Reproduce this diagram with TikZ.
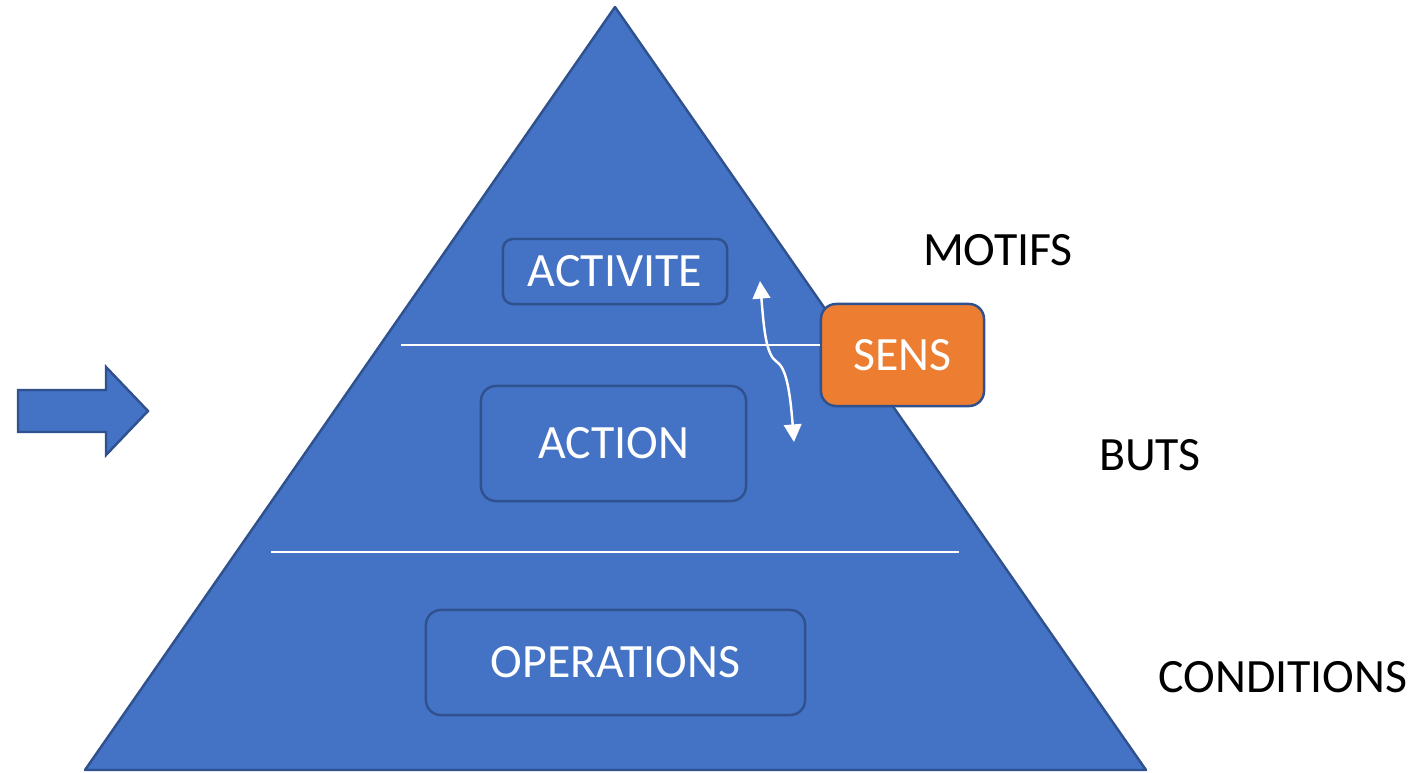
\documentclass[tikz,border=0pt]{standalone}
\usepackage{fontspec}
\setmainfont{Carlito}
\usepackage{tikz}
\definecolor{PyramidBlue}{HTML}{4472C4}
\definecolor{EdgeBlue}{HTML}{2F528F}
\definecolor{SensOrange}{HTML}{ED7D31}
\usetikzlibrary{
	positioning,
	calc,
	arrows.meta
}

\begin{document}
\begin{tikzpicture}[
	x=0.01cm, y=-0.01cm,
	txt/.style={font=\fontsize{13.6}{16}\selectfont, inner sep=0pt},
	level/.style={txt, draw=EdgeBlue, line width=0.7pt, text=white, rounded corners=0.15cm},
	levelsmall/.style={level, minimum width=2.24cm, minimum height=0.65cm, rounded corners=0.1cm},
	sense/.style={level, fill=SensOrange, minimum width=1.63cm, minimum height=1.02cm},
	side/.style={txt, text=black},
	divider/.style={draw=white, line width=0.4pt},
	flow/.style={draw=white, line width=0.7pt, {Triangle[width=5pt,length=5pt]}-{Triangle[width=5pt,length=5pt]}}
]

	\useasboundingbox (0,0) rectangle (1426,772);

	% pyramid
	\coordinate (apex) at (615,7);
	\coordinate (baseL) at (85,770);
	\coordinate (baseR) at (1146,770);
	\fill[PyramidBlue, draw=EdgeBlue, line width=0.7pt, line join=round] (apex) -- (baseR) -- (baseL) -- cycle;

	% input arrow
	\fill[PyramidBlue, draw=EdgeBlue, line width=0.7pt] (18,390) -- (106,390) -- (106,367) -- (148,411)
		-- (106,455) -- (106,432) -- (18,432) -- cycle;

	% dividers
	\coordinate (d1a) at (401,345);
	\coordinate (d2a) at (271,552);
	\coordinate (d2b) at (959,552);

	% levels
	\node[levelsmall] (activite) at (615,271.5) {ACTIVITE};
	\node[level, minimum width=2.65cm, minimum height=1.15cm] (action) at (613.5,443.5) {ACTION};
	\node[level, minimum width=3.79cm, minimum height=1.05cm] (operations) at (615.5,662.5) {OPERATIONS};
	\node[sense] (sens) at (902.5,355) {SENS};

	\draw[divider] (d1a) -- (d1a -| sens.west);
	\draw[divider] (d2a) -- (d2b);

	% link between levels
	\coordinate (up) at (760,281);
	\coordinate (down) at (794,442);
	\draw[flow] (up) .. controls (764,330) and (766,355) .. (777,362)
		.. controls (786,368) and (790,390) .. (down);

	% side labels
	\node[side] (motifs) at (998,250) {MOTIFS};
	\node[side] (buts) at (1150,455) {BUTS};
	\node[side] (conditions) at (1283,677) {CONDITIONS};

\end{tikzpicture}
\end{document}
